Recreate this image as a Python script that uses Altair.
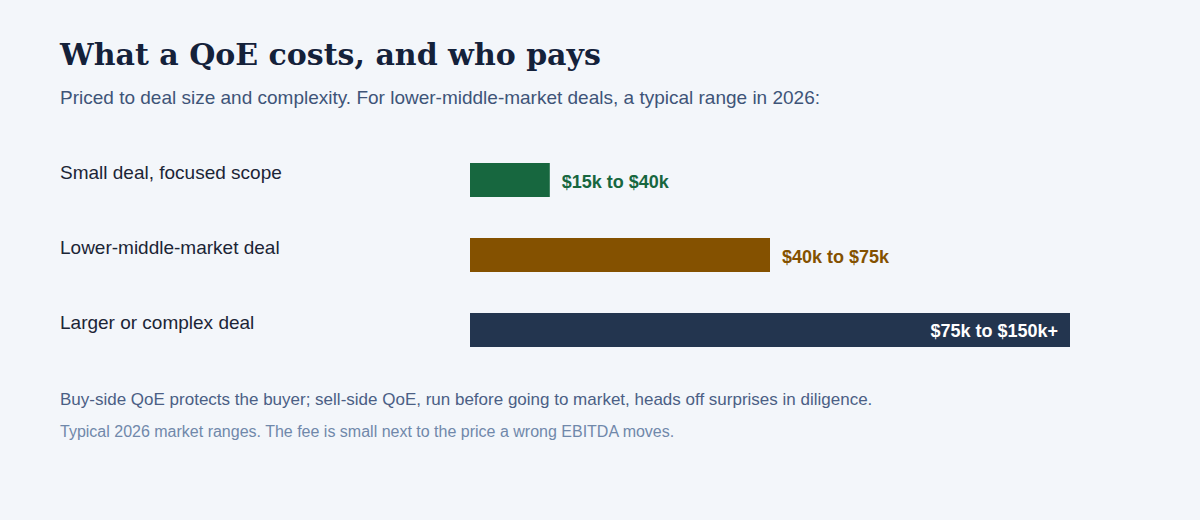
import altair as alt
import pandas as pd

# Deal tiers, their fee ranges and relative bar lengths (largest tier = 100)
categories = ["Small deal, focused scope", "Lower-middle-market deal", "Larger or complex deal"]
range_labels = ["$15k to $40k", "$40k to $75k", "$75k to $150k+"]
bar_share = [13.3, 50.0, 100.0]
bar_colors = ["#17673f", "#845100", "#23354f"]
label_inside = [False, False, True]

title_text = "What a QoE costs, and who pays"
subtitle_text = "Priced to deal size and complexity. For lower-middle-market deals, a typical range in 2026:"
note_text = ("Buy-side QoE protects the buyer; sell-side QoE, run before going to market, "
             "heads off surprises in diligence.")
source_text = "Typical 2026 market ranges. The fee is small next to the price a wrong EBITDA moves."

SANS = "Liberation Sans"
SERIF = "DejaVu Serif"

df = pd.DataFrame({
    "deal": categories,
    "fee": range_labels,
    "share": bar_share,
    "inside": label_inside,
})

x_scale = alt.Scale(domain=[0, 100], range=[470, 1070])
y_scale = alt.Scale(domain=categories, range=[142.5, 367.5],
                    paddingInner=41 / 75, paddingOuter=41 / 150)
color_scale = alt.Scale(domain=categories, range=bar_colors)

X = alt.X("share:Q", scale=x_scale, axis=None)
Y = alt.Y("deal:N", scale=y_scale, axis=None, sort=categories)

base = alt.Chart(df)

bars = base.mark_bar().encode(
    x=X, y=Y,
    color=alt.Color("deal:N", scale=color_scale, legend=None),
)

row_labels = base.mark_text(
    align="left", baseline="alphabetic", dy=-1, fontSize=19, font=SANS, color="#1b2536"
).encode(x=alt.value(60), y=Y, text="deal:N")

fee_outside = base.transform_filter("!datum.inside").mark_text(
    align="left", baseline="alphabetic", dx=12, dy=8, fontSize=18, fontWeight="bold", font=SANS
).encode(
    x=X, y=Y, text="fee:N",
    color=alt.Color("deal:N", scale=color_scale, legend=None),
)

fee_inside = base.transform_filter("datum.inside").mark_text(
    align="right", baseline="alphabetic", dx=-12, dy=7, fontSize=18, fontWeight="bold",
    font=SANS, color="#ffffff"
).encode(x=X, y=Y, text="fee:N")


def note(text, y, size, color, font=SANS, weight="normal"):
    return alt.Chart(alt.Data(values=[{"t": text}])).mark_text(
        align="left", baseline="alphabetic", fontSize=size, font=font,
        fontWeight=weight, color=color
    ).encode(x=alt.value(60), y=alt.value(y), text="t:N")


title = note(title_text, 65, 30, "#14213a", font=SERIF, weight="bold")
subtitle = note(subtitle_text, 104, 19, "#3e5478")
footer = note(note_text, 405, 17, "#4b5f85")
source = note(source_text, 437, 16, "#7088aa")

chart = alt.layer(
    bars, row_labels, fee_outside, fee_inside, title, subtitle, footer, source
).properties(
    width=1200, height=520, background="#f3f6fa", padding=0,
    autosize=alt.AutoSizeParams(type="none"),
).configure_view(stroke=None)

chart.save("out.html", embed_options={"renderer": "svg", "actions": False})
